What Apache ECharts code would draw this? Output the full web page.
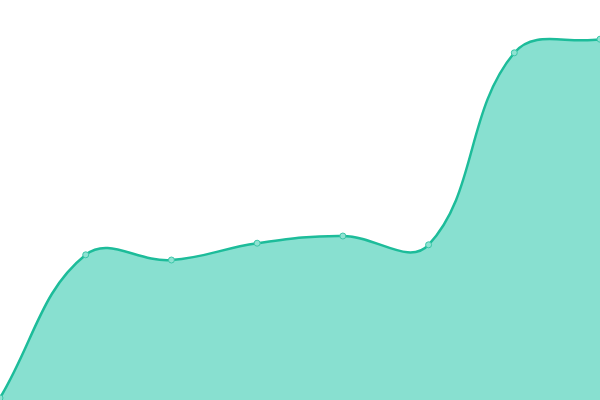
<!DOCTYPE html>
<html><head><meta charset="utf-8">
<script src="https://cdn.jsdelivr.net/npm/echarts@6/dist/echarts.min.js"></script>
<style>html,body{margin:0;padding:0;background:#fff}#c{width:600px;height:400px}</style>
</head><body><div id="c"></div>
<script>
const categories = ['1','2','3','4','5','6','7','8'];
const values = [0.5, 36.3, 35, 39.2, 41, 38.8, 86.8, 90.2];
const TENSION = 0.4;

function renderCurve(params, api) {
  if (params.dataIndex !== 0) return null;
  const cs = params.coordSys;
  const pts = values.map((v, i) => api.coord([i, v]));
  const clampX = x => Math.max(cs.x, Math.min(cs.x + cs.width, x));
  const clampY = y => Math.max(cs.y, Math.min(cs.y + cs.height, y));
  const cps = pts.map((cur, i) => {
    const prev = pts[i - 1] || cur, next = pts[i + 1] || cur;
    const d01 = Math.hypot(cur[0] - prev[0], cur[1] - prev[1]);
    const d12 = Math.hypot(next[0] - cur[0], next[1] - cur[1]);
    let s01 = d01 / (d01 + d12), s12 = d12 / (d01 + d12);
    if (!isFinite(s01)) s01 = 0;
    if (!isFinite(s12)) s12 = 0;
    const fa = TENSION * s01, fb = TENSION * s12;
    return {
      prev: [clampX(cur[0] - fa * (next[0] - prev[0])), clampY(cur[1] - fa * (next[1] - prev[1]))],
      next: [clampX(cur[0] + fb * (next[0] - prev[0])), clampY(cur[1] + fb * (next[1] - prev[1]))]
    };
  });
  let d = 'M' + pts[0][0] + ',' + pts[0][1];
  for (let i = 0; i < pts.length - 1; i++) {
    d += ' C' + cps[i].next.join(',') + ' ' + cps[i + 1].prev.join(',') + ' ' + pts[i + 1].join(',');
  }
  const bottom = api.coord([0, 0])[1];
  const last = pts[pts.length - 1];
  const area = d + ' L' + last[0] + ',' + bottom + ' L' + pts[0][0] + ',' + bottom + ' Z';
  return {
    type: 'group',
    children: [
      {type: 'path', shape: {pathData: area}, style: {fill: '#88e0d0', stroke: null}},
      {type: 'path', shape: {pathData: d}, style: {fill: null, stroke: '#1dbc9a', lineWidth: 2.5}}
    ]
  };
}

const chart = echarts.init(document.getElementById('c'));
chart.setOption({
  animation: false,
  grid: {left: 0, right: 0, top: 0, bottom: 0},
  xAxis: {type: 'category', data: categories, boundaryGap: false, show: false},
  yAxis: {type: 'value', min: 0, max: 100, show: false},
  series: [{
    type: 'custom',
    data: values,
    renderItem: renderCurve,
    clip: true,
    z: 1
  }, {
    type: 'line',
    data: values,
    symbol: 'circle',
    symbolSize: 6,
    lineStyle: {opacity: 0},
    itemStyle: {color: '#8fe2d2', borderColor: '#3cc6a8', borderWidth: 1},
    z: 3
  }]
});
</script></body></html>
